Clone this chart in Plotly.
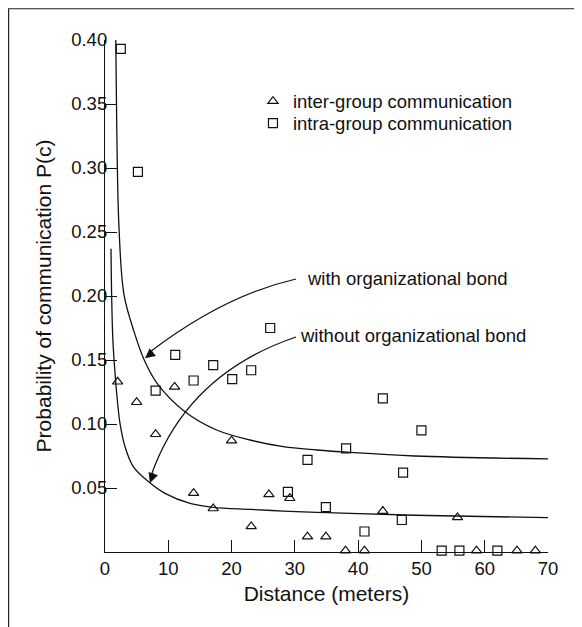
import plotly.graph_objects as go

# ---- data ----
inter_x = [2.0, 5.0, 8.0, 11.0, 14.0, 17.1, 20.0, 23.1, 25.9, 29.2, 32.0, 34.9,
           38.0, 41.0, 43.9, 55.7, 58.7, 65.1, 68.0]
inter_y = [0.133, 0.117, 0.092, 0.129, 0.046, 0.034, 0.087, 0.020, 0.045, 0.042,
           0.012, 0.012, 0.001, 0.001, 0.032, 0.027, 0.001, 0.001, 0.001]

intra_x = [2.5, 5.2, 8.0, 11.1, 14.0, 17.1, 20.1, 23.1, 26.1, 28.9, 32.0, 34.9,
           38.1, 41.0, 43.9, 47.1, 46.9, 50.0, 53.2, 56.0, 62.0]
intra_y = [0.393, 0.297, 0.126, 0.154, 0.134, 0.146, 0.135, 0.142, 0.175, 0.047,
           0.072, 0.035, 0.081, 0.016, 0.120, 0.062, 0.025, 0.095, 0.001, 0.001, 0.001]

with_bond_x = [1.69, 1.85, 2.2, 3.0, 4.6, 6.2, 8.2, 12.64, 17.65, 22.91,
               28.17, 33.45, 38.7, 48.98, 70.0]
with_bond_y = [0.404, 0.334, 0.255, 0.201, 0.172, 0.150, 0.132, 0.1096, 0.0953,
               0.0875, 0.0823, 0.0797, 0.0778, 0.0750, 0.0727]

without_bond_x = [0.95, 1.05, 1.25, 1.58, 2.0, 2.37, 3.16, 4.47, 6.85, 9.48,
                  13.43, 17.11, 22.9, 28.17, 33.45, 38.7, 48.98, 70.0]
without_bond_y = [0.237, 0.200, 0.165, 0.140, 0.116, 0.1005, 0.0823, 0.0667, 0.0550,
                  0.0458, 0.0380, 0.0349, 0.0333, 0.0320, 0.0310, 0.0302, 0.0287, 0.0268]

x_ticks = [0, 10, 20, 30, 40, 50, 60, 70]
y_ticks = [0.05, 0.10, 0.15, 0.20, 0.25, 0.30, 0.35, 0.40]
y_ticktext = ["0.05", "0.10", "0.15", "0.20", "0.25", "0.30", "0.35", "0.40"]

FONT = "Liberation Sans, Arial, Helvetica, sans-serif"
INK = "#111111"
FS = 18.5

fig = go.Figure()

fig.add_trace(go.Scatter(x=with_bond_x, y=with_bond_y, mode="lines",
                         line=dict(color=INK, width=1.3, shape="spline", smoothing=1.0),
                         showlegend=False, hoverinfo="skip"))
fig.add_trace(go.Scatter(x=without_bond_x, y=without_bond_y, mode="lines",
                         line=dict(color=INK, width=1.3, shape="spline", smoothing=1.0),
                         showlegend=False, hoverinfo="skip"))

fig.add_trace(go.Scatter(x=inter_x, y=inter_y, mode="markers",
                         name="inter-group communication", legend="legend",
                         marker=dict(symbol="triangle-up-open", size=9,
                                     color=INK, line=dict(width=1.2, color=INK)),
                         cliponaxis=False))
fig.add_trace(go.Scatter(x=intra_x, y=intra_y, mode="markers",
                         name="intra-group communication", legend="legend2",
                         marker=dict(symbol="square-open", size=9,
                                     color=INK, line=dict(width=1.2, color=INK)),
                         cliponaxis=False))

# curved arrow shafts (quadratic Bezier in data coords)
fig.add_shape(type="path", xref="x", yref="y",
              path="M 30.18,0.2133 Q 18.72,0.2004 6.9,0.1555",
              line=dict(color=INK, width=1.2))
fig.add_shape(type="path", xref="x", yref="y",
              path="M 30.18,0.1680 Q 12.96,0.1391 7.3,0.0600",
              line=dict(color=INK, width=1.2))

# arrow heads
fig.add_annotation(x=6.32, y=0.1513, ax=7.81, ay=0.1572, xref="x", yref="y",
                   axref="x", ayref="y", text="", showarrow=True,
                   arrowhead=2, arrowsize=2, arrowwidth=1, arrowcolor=INK)
fig.add_annotation(x=7.11, y=0.0539, ax=7.73, ay=0.0628, xref="x", yref="y",
                   axref="x", ayref="y", text="", showarrow=True,
                   arrowhead=2, arrowsize=2, arrowwidth=1, arrowcolor=INK)

fig.add_annotation(x=31.6, y=0.214, xref="x", yref="y", text="with organizational bond",
                   showarrow=False, xanchor="left", yanchor="middle",
                   font=dict(family=FONT, size=FS, color=INK))
fig.add_annotation(x=30.55, y=0.1695, xref="x", yref="y", text="without organizational bond",
                   showarrow=False, xanchor="left", yanchor="middle",
                   font=dict(family=FONT, size=FS, color=INK))

# outer frame (figure edge; the bottom edge lies below the visible window)
fig.add_shape(type="rect", xref="paper", yref="paper",
              x0=-0.2176, x1=1.0632, y0=-0.2, y1=1.0610,
              line=dict(color="#222222", width=1.2), layer="below")

legend_common = dict(xanchor="left", yanchor="top", bgcolor="rgba(0,0,0,0)",
                     font=dict(family=FONT, size=FS, color=INK), itemwidth=30)

fig.update_layout(
    width=574, height=619,
    margin=dict(l=97, r=34, t=32, b=75),
    paper_bgcolor="white", plot_bgcolor="white",
    font=dict(family=FONT, size=FS, color=INK),
    legend=dict(x=0.334, y=0.9168, **legend_common),
    legend2=dict(x=0.334, y=0.8738, **legend_common),
    xaxis=dict(range=[0, 70], tickvals=x_ticks, ticks="inside", ticklen=12,
               tickwidth=1, tickcolor=INK, showline=True, linecolor=INK, linewidth=1.2,
               showgrid=False, zeroline=False,
               tickfont=dict(family=FONT, size=FS, color=INK),
               title=dict(text="Distance (meters)", standoff=8,
                          font=dict(family=FONT, size=21, color=INK))),
    yaxis=dict(range=[0, 0.4], tickvals=y_ticks, ticktext=y_ticktext, ticks="inside",
               ticklen=12, tickwidth=1, tickcolor=INK, showline=True, linecolor=INK,
               linewidth=1.2, showgrid=False, zeroline=False, ticklabelstandoff=-7,
               tickfont=dict(family=FONT, size=FS, color=INK),
               title=dict(text="Probability of communication P(c)", standoff=13,
                          font=dict(family=FONT, size=21, color=INK))),
)

fig.write_html("out.html")
